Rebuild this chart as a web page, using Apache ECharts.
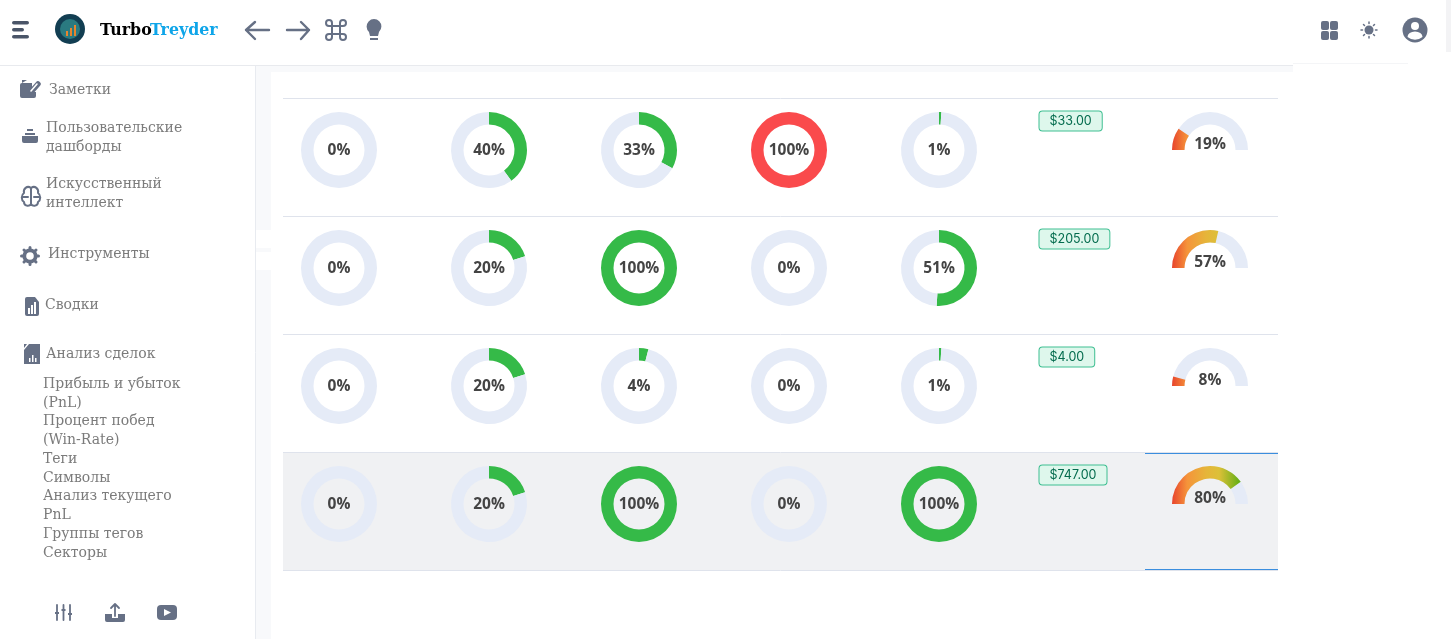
<!DOCTYPE html>
<html><head><meta charset="utf-8">
<style>html,body{margin:0;padding:0;background:#fff;overflow:hidden}#c{width:1451px;height:639px}</style>
<script src="https://cdn.jsdelivr.net/npm/echarts@6/dist/echarts.min.js"></script>
</head><body><div id="c"></div>
<script>
const row1 = [0, 40, 33, 100, 1];
const row2 = [0, 20, 100, 0, 51];
const row3 = [0, 20, 4, 0, 1];
const row4 = [0, 20, 100, 0, 100];
const rows = [row1, row2, row3, row4];
const fees = ['$33.00', '$205.00', '$4.00', '$747.00'];
const gaugeValues = [19, 57, 8, 80];
const brand = ['Turbo', 'Treyder'];
const sideMain = [
  ['Заметки', 49, 90], ['Пользовательские', 46, 128], ['дашборды', 46, 147],
  ['Искусственный', 46, 184], ['интеллект', 46, 203], ['Инструменты', 48, 254],
  ['Сводки', 45, 305], ['Анализ сделок', 46, 354]
];
const sideSub = ['Прибыль и убыток', '(PnL)', 'Процент побед', '(Win-Rate)', 'Теги', 'Символы', 'Анализ текущего', 'PnL', 'Группы тегов', 'Секторы'];
const sideSubY = [384, 403, 421, 440, 459, 478, 496, 515, 534, 553];

const GREEN = '#35ba48', RED = '#fa4a4c', TRACK = '#e5ebf7', INK = '#444444', ICON = '#667085', SIDE = '#7b7b7b';
const SERIF = '"DejaVu Serif"', SANS = '"Open Sans"';
const colX = i => 339 + i * 150, rowY = i => 150 + i * 118;
const lineY = i => 98 + i * 118;

const chart = echarts.init(document.getElementById('c'));
const g = [];
let shapeId = 0;
const pathShape = d => { const n = 'iconPath' + (shapeId++); echarts.graphic.registerShape(n, echarts.graphic.extendPath(d, {})); return n; };
const rect = (x, y, w, h, fill, z, r) => g.push({type:'rect', z:z||0, silent:true, shape:{x,y,width:w,height:h,r:r||0}, style:{fill}});
const line = (x1, y, x2, stroke, w) => g.push({type:'line', z:1, silent:true, shape:{x1,y1:y+.5,x2,y2:y+.5}, style:{stroke, lineWidth:w||1}});
const text = (x, y, t, font, fill, extra) => g.push({type:'text', z:5, silent:true, x, y, style:Object.assign({text:t, font, fill, textVerticalAlign:'middle', verticalAlign:'middle'}, extra||{})});
const fillPath = (d, fill, z) => g.push({type:pathShape(d), z:z||4, silent:true, style:{fill, stroke:null}});
const strokePath = (d, w, stroke, z) => g.push({type:pathShape(d), z:z||4, silent:true, style:{fill:null, stroke:stroke||ICON, lineWidth:w, lineCap:'round', lineJoin:'round'}});
const circ = (cx, cy, r, fill, z) => g.push({type:'circle', z:z||4, silent:true, shape:{cx,cy,r}, style:{fill}});

// page chrome
rect(256, 66, 1037, 573, '#f8f9fb');
rect(271, 72, 1022, 567, '#ffffff');
rect(256, 230, 16, 18, '#ffffff'); rect(256, 252, 16, 18, '#ffffff');
g.push({type:'line', z:1, silent:true, shape:{x1:255.5,y1:66,x2:255.5,y2:639}, style:{stroke:'#e8ebf0', lineWidth:1}});
rect(0, 65, 1293, 1, '#e8eaee');
rect(1293, 63, 115, 1, '#f4f5f7');
rect(1446, 0, 5, 52, '#f3f3f5');

// table
rect(283, 453, 995, 117, '#f0f1f3');
for (let i = 0; i < 5; i++) line(283, lineY(i), 1278, '#dfe3ec');
line(1145, 453, 1278, '#3b8ede');
line(1145, 569, 1278, '#3b8ede');

// header
rect(12, 21, 17, 3.6, '#4a5568', 4, 1.8); rect(12, 28, 12, 3.6, '#4a5568', 4, 1.8); rect(12, 35, 17, 3.6, '#4a5568', 4, 1.8);
circ(70, 29, 15, '#123e52'); circ(70, 29, 10, '#2a7a80');
rect(66, 31, 2, 5, '#e8842c', 5); rect(70, 28, 2, 8, '#e8842c', 5); rect(74, 25, 2, 11, '#e8842c', 5);
text(100, 31, brand[0], 'bold 15.8px ' + SERIF, '#000000');
text(150, 31, brand[1], 'bold 15.8px ' + SERIF, '#0ea5e9');
strokePath('M269 30 L246 30 M255 22 L246 30 L255 39', 2.4);
strokePath('M287 30 L309 30 M301 22 L309 30 L301 39', 2.4);
strokePath('M332 26 L332 23 A3 3 0 1 0 329 26 L343 26 A3 3 0 1 0 340 23 L340 37 A3 3 0 1 0 343 34 L329 34 A3 3 0 1 0 332 37 Z', 2);
fillPath('M374 19 A7.5 7.5 0 0 1 379 32 L378 36 L370 36 L369 32 A7.5 7.5 0 0 1 374 19 Z M370 38 L378 38 L378 40 L370 40 Z', ICON);
[[1321,21],[1330,21],[1321,31],[1330,31]].forEach(p => rect(p[0], p[1], 8, 9, ICON, 4, 2));
circ(1369, 30, 4.5, ICON);
strokePath('M1369 22 L1369 23.5 M1369 36.5 L1369 38 M1361 30 L1362.5 30 M1375.5 30 L1377 30 M1363.5 24.5 L1364.5 25.5 M1373.5 34.5 L1374.5 35.5 M1363.5 35.5 L1364.5 34.5 M1373.5 25.5 L1374.5 24.5', 1.5);
circ(1415, 30, 12.5, ICON);
circ(1415, 26, 4, '#ffffff', 5);
fillPath('M1407.5 37 A7.5 5.5 0 0 1 1422.5 37 A12 12 0 0 1 1407.5 37 Z', '#ffffff', 5);

// sidebar
sideMain.forEach(s => text(s[1], s[2], s[0], '14px ' + SERIF, SIDE));
sideSub.forEach((t, i) => text(43, sideSubY[i], t, '14px ' + SERIF, SIDE));
fillPath('M22 83 L32 83 L32 92 L36 92 L36 96 Q36 98 34 98 L22 98 Q20 98 20 96 L20 85 Q20 83 22 83 Z M22 80 L27 80 L22 83 Z', ICON);
strokePath('M38 84 L31 92', 5.5, ICON, 4);
strokePath('M37 84 L31 91', 1.6, '#ffffff', 5);
fillPath('M27 129 L33 129 L33 131 L27 131 Z M25 133 L35 133 L35 135 L25 135 Z M22 136 L38 136 L38 141 Q38 143 36 143 L24 143 Q22 143 22 141 Z', ICON);
strokePath('M31 188 C27 185 23 189 24 193 C21 195 21 200 24 202 C24 206 29 207 31 204 C33 207 38 206 38 202 C41 200 41 195 38 193 C39 189 35 185 31 188 Z M31 188 L31 204 M23 197 L28 197 M39 197 L34 197', 2);
circ(30, 256, 7.6, ICON); circ(30, 256, 3.8, '#ffffff', 5);
strokePath('M30 247.5 L30 264.5 M21.5 256 L38.5 256 M24 250 L36 262 M24 262 L36 250', 3);
fillPath('M27 297 L35 297 L39 302 L39 314 Q39 316 37 316 L27 316 Q25 316 25 314 L25 299 Q25 297 27 297 Z', ICON);
rect(28, 308, 2, 6, '#ffffff', 5); rect(31, 305, 2, 9, '#ffffff', 5); rect(34, 302, 2, 12, '#ffffff', 5);
fillPath('M24 350 L29 344 L40 344 L40 364 L24 364 Z M24 348 L27 344 L24 344 Z', ICON);
rect(29, 358, 1.5, 4, '#ffffff', 5); rect(32, 355, 1.5, 7, '#ffffff', 5); rect(35, 358, 1.5, 4, '#ffffff', 5);
strokePath('M57 605 L57 620 M63.5 605 L63.5 620 M70 605 L70 620', 1.8);
rect(55, 612, 4, 2, ICON, 5); rect(61.5, 609, 4, 2, ICON, 5); rect(68, 613, 4, 2, ICON, 5);
fillPath('M105 614 L112 614 L112 618 L118 618 L118 614 L125 614 L125 620 Q125 622 123 622 L107 622 Q105 622 105 620 Z', ICON);
strokePath('M115 616 L115 604 M111 608 L115 604 L119 608', 1.8);
rect(157, 605, 20, 15, ICON, 4, 4);
fillPath('M164 609 L171 612.5 L164 616 Z', '#ffffff', 5);

// fee badges
fees.forEach((f, i) => g.push({type:'text', z:5, silent:true, x:1039.5, y:rowY(i) - 29, style:{
  text:f, font:'12.5px Inter', fill:'#046c4e', verticalAlign:'middle', textVerticalAlign:'middle',
  backgroundColor:'#def7ec', borderColor:'#3fbf92', borderWidth:1, borderRadius:3, padding:[3,10,3,10]
}}));

// donuts
const series = [];
rows.forEach((vals, r) => vals.forEach((v, c) => series.push({
  type:'pie', silent:true, animation:false, center:[colX(c), rowY(r)], radius:[25.5, 38], startAngle:90, clockwise:true,
  labelLine:{show:false}, z:3,
  data:[
    {value:v, itemStyle:{color:c === 3 ? RED : GREEN}, label:{show:true, position:'center', formatter:v + '%', offset:[0, 1], fontFamily:SANS, fontSize:15.5, fontWeight:'bold', color:INK}},
    {value:100 - v, itemStyle:{color:TRACK}, label:{show:false}}
  ]
})));

// half gauges
const gaugeX = 1210, gaugeR = 38;
gaugeValues.forEach((v, r) => series.push({
  type:'gauge', silent:true, animation:false, center:[gaugeX, rowY(r)], radius:gaugeR, startAngle:180, endAngle:0, min:0, max:100, z:3,
  axisLine:{lineStyle:{width:12.5, color:[[1, TRACK]]}},
  progress:{show:true, width:12.5, itemStyle:{color:{type:'linear', global:true, x:gaugeX - gaugeR, y:0, x2:gaugeX + gaugeR, y2:0,
    colorStops:[{offset:0,color:'#e8442c'},{offset:.2,color:'#f5943a'},{offset:.45,color:'#e6b53a'},{offset:.62,color:'#dcc038'},{offset:.9,color:'#5fae14'},{offset:1,color:'#4aa80f'}]}}},
  pointer:{show:false}, axisTick:{show:false}, splitLine:{show:false}, axisLabel:{show:false}, title:{show:false},
  detail:{show:true, offsetCenter:[0, -5], formatter:'{value}%', fontFamily:SANS, fontSize:15.5, fontWeight:'bold', color:INK},
  data:[{value:v}]
}));

chart.setOption({animation:false, backgroundColor:'#ffffff', graphic:{elements:g}, series});
</script></body></html>
